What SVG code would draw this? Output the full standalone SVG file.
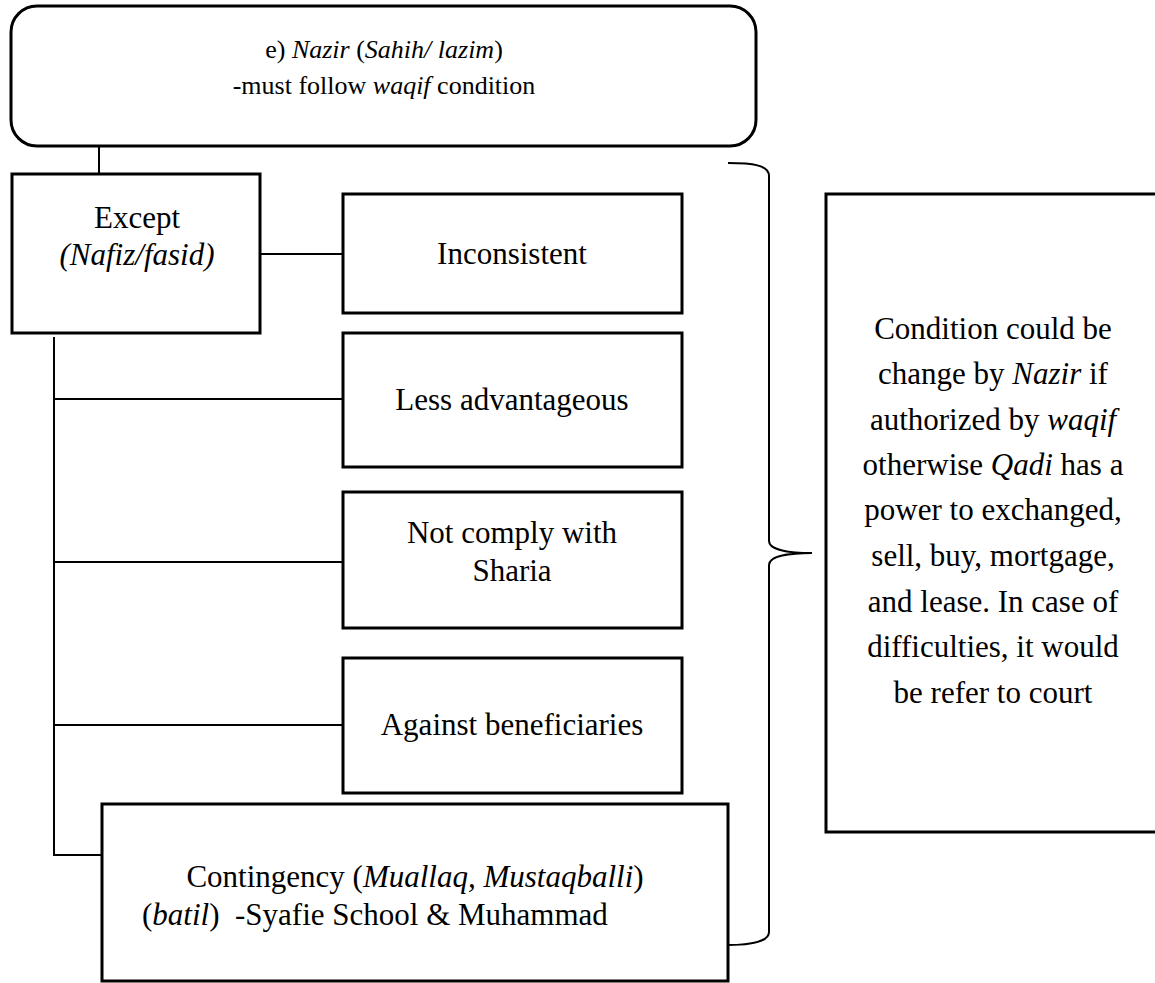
<svg xmlns="http://www.w3.org/2000/svg" width="1155" height="983" viewBox="0 0 1155 983">
<style>
text{font-family:"Liberation Serif","Times New Roman",serif;font-size:31px;fill:#000;text-anchor:middle}
.i{font-style:italic}
.t{font-size:26px}
.box{fill:#fff;stroke:#000;stroke-width:3}
.ln{fill:none;stroke:#000;stroke-width:2}
</style>
<rect width="1155" height="983" fill="#fff"/>
<g id="connectors">
<line class="ln" x1="99" y1="146" x2="99" y2="175"/>
<line class="ln" x1="260" y1="254" x2="343" y2="254"/>
<line class="ln" x1="54" y1="337" x2="54" y2="856"/>
<line class="ln" x1="54" y1="399" x2="343" y2="399"/>
<line class="ln" x1="54" y1="562" x2="343" y2="562"/>
<line class="ln" x1="54" y1="725" x2="343" y2="725"/>
<line class="ln" x1="53" y1="855" x2="102" y2="855"/>
<path class="ln" d="M728,163 C752,163 769,165 769,176 L769,541 C769,550 790,553 812,553 C790,553 769,556 769,565 L769,932 C769,941 752,945 728,945"/>
</g>
<g id="top">
<rect class="box" x="11" y="6" width="745" height="140" rx="26" ry="26" stroke-width="2.5"/>
<text class="t" x="384" y="58">e) <tspan class="i">Nazir</tspan> (<tspan class="i">Sahih/ lazim</tspan>)</text>
<text class="t" x="384" y="94">-must follow <tspan class="i">waqif</tspan> condition</text>
</g>
<g id="except">
<rect class="box" x="12" y="174" width="248" height="159"/>
<text x="137" y="228">Except</text>
<text x="137" y="265" class="i">(Nafiz/fasid)</text>
</g>
<g id="inconsistent">
<rect class="box" x="343" y="194" width="339" height="119"/>
<text x="512" y="264">Inconsistent</text>
</g>
<g id="less">
<rect class="box" x="343" y="333" width="339" height="134"/>
<text x="512" y="410">Less advantageous</text>
</g>
<g id="notcomply">
<rect class="box" x="343" y="492" width="339" height="136"/>
<text x="512" y="543">Not comply with</text>
<text x="512" y="581">Sharia</text>
</g>
<g id="against">
<rect class="box" x="343" y="658" width="339" height="135"/>
<text x="512" y="735">Against beneficiaries</text>
</g>
<g id="contingency">
<rect class="box" x="102" y="804" width="626" height="177"/>
<text x="415" y="887">Contingency (<tspan class="i">Muallaq, Mustaqballi</tspan>)</text>
<text x="142" y="925" style="text-anchor:start" xml:space="preserve">(<tspan class="i">batil</tspan>)  -Syafie School &amp; Muhammad</text>
</g>
<g id="condition">
<rect class="box" x="826" y="194" width="340" height="638"/>
<text x="993" y="339">Condition could be</text>
<text x="993" y="384">change by <tspan class="i">Nazir</tspan> if</text>
<text x="993" y="430">authorized by <tspan class="i">waqif</tspan></text>
<text x="993" y="475">otherwise <tspan class="i">Qadi</tspan> has a</text>
<text x="993" y="520">power to exchanged,</text>
<text x="993" y="566">sell, buy, mortgage,</text>
<text x="993" y="612">and lease. In case of</text>
<text x="993" y="657">difficulties, it would</text>
<text x="993" y="703">be refer to court</text>
</g>
</svg>
